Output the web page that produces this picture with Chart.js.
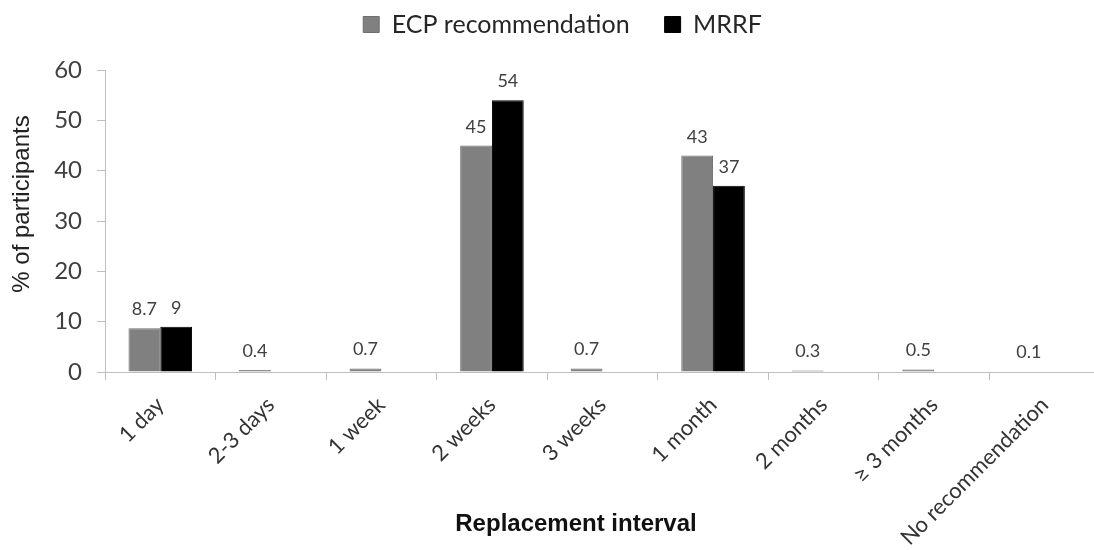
<!DOCTYPE html>
<html>
<head>
<meta charset="utf-8">
<script src="https://cdn.jsdelivr.net/npm/chart.js@4"></script>
<style>
html, body { margin: 0; padding: 0; overflow: hidden; background: #ffffff; width: 1094px; height: 550px; }
canvas { display: block; }
</style>
</head>
<body>
<canvas id="c" width="1100" height="550" style="width:1100px;height:550px"></canvas>
<script>
const categories = ['1 day', '2-3 days', '1 week', '2 weeks', '3 weeks', '1 month', '2 months', '\u2265 3 months', 'No recommendation'];
const ecpRecommendation = [8.7, 0.4, 0.7, 45, 0.7, 43, 0.3, 0.5, 0.1];
const mrrf = [9, null, null, 54, null, 37, null, null, null];
const seriesNames = ['ECP recommendation', 'MRRF'];
const yTicks = [0, 10, 20, 30, 40, 50, 60];
const xTitle = 'Replacement interval';
const yTitle = '% of participants';

const valueLabels = {
  id: 'valueLabels',
  afterDatasetsDraw(chart) {
    const ctx = chart.ctx;
    ctx.save();
    ctx.font = '18px Lato';
    ctx.fillStyle = '#404040';
    ctx.textAlign = 'center';
    ctx.textBaseline = 'alphabetic';
    chart.data.datasets.forEach((ds, di) => {
      const meta = chart.getDatasetMeta(di);
      meta.data.forEach((el, i) => {
        const v = ds.data[i];
        if (v === null || v === undefined) return;
        ctx.fillText(String(v), el.x, el.y - 13);
      });
    });
    ctx.restore();
  }
};

const axisTitles = {
  id: 'axisTitles',
  afterDraw(chart) {
    const ctx = chart.ctx;
    const area = chart.chartArea;
    ctx.save();
    ctx.textAlign = 'center';
    ctx.textBaseline = 'middle';
    ctx.fillStyle = '#111111';
    ctx.font = 'bold 24px "Liberation Sans"';
    ctx.fillText(xTitle, area.left + 471, chart.height - 26);
    ctx.fillStyle = '#222222';
    ctx.font = '24px "Liberation Sans"';
    ctx.translate(22, area.top + 134);
    ctx.rotate(-Math.PI / 2);
    ctx.fillText(yTitle, 0, 0);
    ctx.restore();
  }
};

new Chart(document.getElementById('c'), {
  type: 'bar',
  data: {
    labels: categories,
    datasets: [
      { label: seriesNames[0], data: ecpRecommendation, backgroundColor: '#808080', borderColor: '#6f6f6f', borderWidth: 1 },
      { label: seriesNames[1], data: mrrf, backgroundColor: '#000000', borderColor: '#000000', borderWidth: 1 }
    ]
  },
  options: {
    responsive: false,
    animation: false,
    devicePixelRatio: 1,
    categoryPercentage: 0.575,
    barPercentage: 1,
    layout: { padding: { top: -23, left: 25, right: 0, bottom: 0 } },
    plugins: {
      legend: {
        position: 'top',
        labels: {
          font: { family: 'Lato', size: 25 },
          color: '#262626',
          boxWidth: 16,
          boxHeight: 16,
          padding: 35
        }
      },
      title: { display: true, text: '', weight: 500, font: { size: 10 }, padding: { top: 0, bottom: 11 } },
      tooltip: { enabled: false }
    },
    scales: {
      x: {
        grid: { drawOnChartArea: false, drawTicks: true, tickLength: 8, color: '#bfbfbf', offset: true },
        border: { display: true, color: '#bfbfbf', width: 1 },
        ticks: {
          autoSkip: false, minRotation: 45, maxRotation: 45,
          font: { family: 'Lato', size: 22 }, color: '#333333', padding: 12
        },
        afterFit(scale) { scale.height = 178; }
      },
      y: {
        min: yTicks[0],
        max: yTicks[yTicks.length - 1],
        ticks: { stepSize: yTicks[1] - yTicks[0], font: { family: 'Lato', size: 24 }, color: '#404040', padding: 15 },
        grid: { drawOnChartArea: false, drawTicks: true, tickLength: 8, color: '#bfbfbf' },
        border: { display: true, color: '#bfbfbf', width: 1 },
        afterFit(scale) { scale.width = 80; }
      }
    }
  },
  plugins: [valueLabels, axisTitles]
});
</script>
</body>
</html>
